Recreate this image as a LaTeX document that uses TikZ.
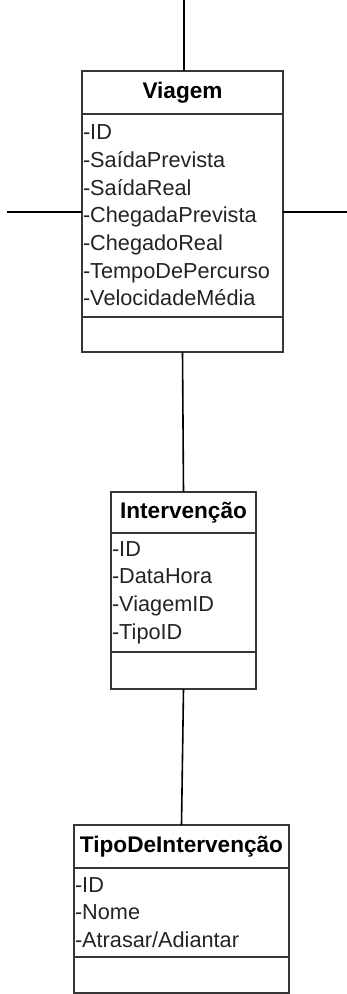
\documentclass[tikz,border=0pt]{standalone}
\usepackage{fontspec}
\setmainfont{Liberation Sans}
\usepackage{xcolor}
\usepackage{tikz}
\usetikzlibrary{positioning}
\definecolor{boxline}{RGB}{55,55,55}
\definecolor{attrtext}{RGB}{35,35,35}
\tikzstyle{classtitle} = [draw=boxline, line width=1pt, outer sep=0pt, inner sep=0pt, font=\fontsize{11.3}{13.85}\selectfont\bfseries, text=black, minimum height=21.5pt]
\tikzstyle{classattr} = [draw=boxline, line width=1pt, outer sep=0pt, inner xsep=0.5pt, inner ysep=0pt, align=left, text=attrtext]
\tikzstyle{classops} = [draw=boxline, line width=1pt, outer sep=0pt, inner sep=0pt]
\tikzstyle{link} = [line width=0.8pt, draw=black]

\begin{document}
\begin{tikzpicture}[x=0.5pt, y=-0.5pt, font=\fontsize{10.85}{13.85}\selectfont]
    \useasboundingbox (0,0) rectangle (347,994);
    % Viagem
    \node[classtitle, minimum width=100.5pt] (viagem) at (182.5,92.5) {Viagem};
    \node[classattr, text width=99.5pt, minimum height=101.5pt, below=0pt of viagem] (viagem-attr)
    {-ID\\-SaídaPrevista\\-SaídaReal\\-ChegadaPrevista\\-ChegadoReal\\-TempoDePercurso\\-VelocidadeMédia};
    \node[classops, minimum width=100.5pt, minimum height=17.5pt, below=0pt of viagem-attr] (viagem-ops) {};
    % Intervencao
    \node[classtitle, minimum width=72.5pt, minimum height=20.5pt, below=70pt of viagem-ops, xshift=0.5pt] (intervencao) {Intervenção};
    \node[classattr, text width=71.5pt, minimum height=59.5pt, below=0pt of intervencao] (intervencao-attr)
    {-ID\\-DataHora\\-ViagemID\\-TipoID};
    \node[classops, minimum width=72.5pt, minimum height=18.5pt, below=0pt of intervencao-attr] (intervencao-ops) {};
    % TipoDeIntervencao
    \node[classtitle, minimum width=107.5pt, below=68pt of intervencao-ops, xshift=-1pt] (tipo) {TipoDeIntervenção};
    \node[classattr, text width=106.5pt, minimum height=44.5pt, below=0pt of tipo] (tipo-attr)
    {-ID\\-Nome\\-Atrasar/Adiantar};
    \node[classops, minimum width=107.5pt, minimum height=18pt, below=0pt of tipo-attr] (tipo-ops) {};
    % ligacoes
    \coordinate (topend) at (184,0);
    \coordinate (leftend) at (7,212);
    \coordinate (rightend) at (347,212);
    \draw[link] (topend) -- (topend |- viagem.north);
    \draw[link] (leftend) -- (leftend -| viagem-attr.west);
    \draw[link] (rightend) -- (rightend -| viagem-attr.east);
    \draw[link] (viagem-ops.south) -- (intervencao.north);
    \draw[link] (intervencao-ops.south) -- (tipo.north);
\end{tikzpicture}
\end{document}
